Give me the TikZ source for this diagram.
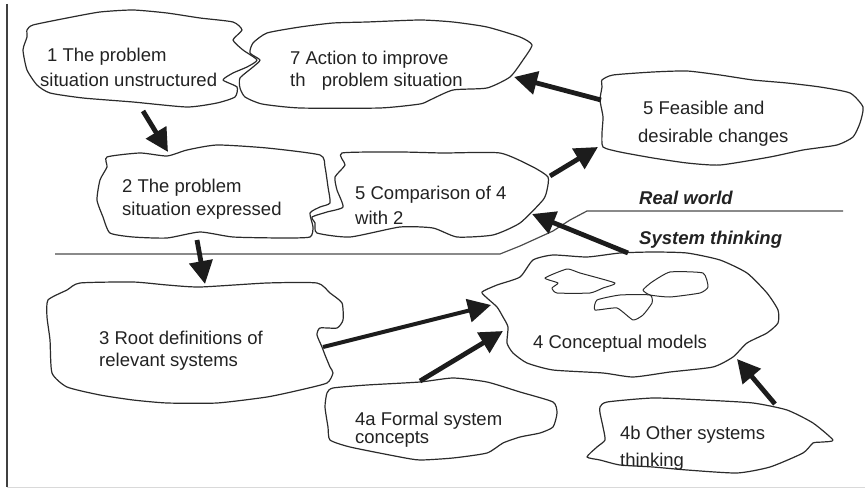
\documentclass[tikz,border=0pt]{standalone}
\usepackage{fontspec}
\setmainfont{Liberation Sans}
\usetikzlibrary{arrows.meta}
\definecolor{ink}{HTML}{2B2B2B}
\definecolor{arrowink}{HTML}{1C1C1C}
\definecolor{textink}{HTML}{222222}
\begin{document}
\begin{tikzpicture}[x=1pt,y=-1pt,
  cloud/.style={draw=ink, line width=1.2pt, line join=round},
  rule/.style={draw=ink!85, line width=1.2pt},
  txt/.style={font=\fontsize{18.5}{24}\selectfont, text=textink, align=left, anchor=west, inner sep=0pt},
  lbl/.style={font=\fontsize{18.5}{24}\selectfont\bfseries\itshape, text=textink, anchor=west, inner sep=0pt},
  arr/.style={draw=arrowink, line width=4.8pt, -{Triangle[length=23pt,width=23pt]}, shorten >=0pt}
]
\useasboundingbox (0,0) rectangle (865,489);

% page border lines
\draw[draw=black!75, line width=2.2pt] (7,4) -- (7,487);
\draw[draw=black!15, line width=0.8pt] (7,487.5) -- (865,487.5);

% ---- clouds ----
% 1 problem situation unstructured
\draw[cloud] plot[smooth cycle, tension=0.35] coordinates {
 (27,30) (33,25) (67,18) (100,12) (133,10) (167,13) (200,18) (233,22) (242,30)
 (233,40) (243,50) (257,60) (247,67) (233,73) (223,80) (237,87) (235,97)
 (217,103) (187,107) (133,102) (83,98) (50,93) (37,85) (27,70) (23,50) (27,37)};
% 7 action
\draw[cloud] plot[smooth cycle, tension=0.35] coordinates {
 (253,43) (267,33) (300,27) (333,23) (367,22) (420,20) (453,22) (487,27) (520,37)
 (532,45) (523,60) (510,77) (487,88) (453,90) (430,100) (420,104) (380,108)
 (300,108) (262,104) (245,97) (240,88) (240,78) (253,67) (260,60) (250,53)};
% 5 feasible
\draw[cloud] plot[smooth cycle, tension=0.35] coordinates {
 (602,80) (613,75) (653,72) (687,71) (720,75) (753,80) (787,83) (820,87) (850,93)
 (863,107) (860,123) (853,137) (837,145) (803,150) (770,157) (720,165) (687,163)
 (653,158) (620,152) (603,147) (602,133) (603,117) (600,100) (602,87)};
% 2 expressed
\draw[cloud] plot[smooth cycle, tension=0.35] coordinates {
 (107,157) (140,153) (167,156) (187,150) (217,145) (267,148) (320,155) (325,167)
 (328,187) (330,203) (320,207) (310,213) (313,227) (310,237) (283,238) (233,237)
 (200,232) (167,238) (133,237) (110,233) (103,217) (97,200) (100,180) (107,167)};
% 5 comparison
\draw[cloud] plot[smooth cycle, tension=0.35] coordinates {
 (342,153) (400,152) (443,153) (500,153) (533,167) (548,177) (547,190) (543,200)
 (520,223) (493,235) (457,237) (433,228) (400,227) (350,237) (317,233) (315,223)
 (312,217) (327,212) (343,207) (337,190) (335,177) (345,165)};
% 3 root definitions
\draw[cloud] plot[smooth cycle, tension=0.35] coordinates {
 (48,300) (67,290) (80,283) (133,282) (167,285) (200,287) (267,283) (317,283)
 (330,293) (342,303) (343,320) (337,328) (320,328) (317,335) (322,347) (325,355)
 (330,367) (333,373) (327,383) (300,390) (267,397) (217,403) (167,403) (133,400)
 (100,395) (67,387) (52,373) (50,340) (47,317)};
% 4a formal
\draw[cloud] plot[smooth cycle, tension=0.35] coordinates {
 (327,393) (333,388) (367,385) (420,382) (453,378) (487,382) (520,392) (553,402)
 (557,413) (553,427) (540,433) (520,437) (503,443) (487,453) (453,458) (420,460)
 (400,457) (350,447) (330,440) (328,427) (325,407)};
% 4 conceptual models
\draw[cloud] plot[smooth cycle, tension=0.35] coordinates {
 (482,292) (497,285) (520,277) (533,260) (553,255) (587,257) (620,253) (653,252)
 (687,253) (720,260) (747,273) (767,293) (778,310) (778,323) (767,333) (747,343)
 (733,357) (713,367) (670,372) (633,377) (603,373) (553,370) (527,363) (513,353)
 (507,343) (508,327) (503,317) (497,307) (487,298)};
% small clouds inside 4
\draw[cloud, line width=1pt] plot[smooth cycle, tension=0.3] coordinates {
 (545,278) (567,269) (580,273) (615,283) (603,288) (590,293) (557,293) (552,288) (558,283)};
\draw[cloud, line width=1pt] plot[smooth cycle, tension=0.3] coordinates {
 (643,290) (652,282) (670,272) (703,273) (708,287) (700,293) (670,297) (650,295)};
\draw[cloud, line width=1pt] plot[smooth cycle, tension=0.3] coordinates {
 (597,300) (620,295) (650,295) (652,303) (643,315) (633,320) (617,308) (595,310)};
% 4b other systems
\draw[cloud] plot[smooth cycle, tension=0.35] coordinates {
 (600,407) (607,402) (653,398) (703,400) (753,403) (787,410) (813,423) (833,440)
 (823,442) (813,443) (803,453) (770,467) (737,473) (687,470) (653,467) (620,465)
 (600,460) (587,457) (597,447) (605,440) (603,427) (600,413)};

% ---- real world / system thinking boundary ----
\draw[rule] (55,254) -- (500,254) -- (520,246) -- (553,231) -- (570,220) -- (587,211) -- (843,211);

% ---- texts ----
\node[txt] (t1) at (40,67.5) {\hspace*{7pt}1 The problem\\[1pt]situation unstructured};
\node[txt] (t7) at (290,71) {7 Action to improve\\[-2pt]th\hspace*{11pt} problem situation};
\node[txt] (t5f) at (638,124) {\hspace*{5pt}5 Feasible and\\[4pt]desirable changes};
\node[txt] (t2) at (122,199) {2 The problem\\[-1pt]situation expressed};
\node[txt] (t5c) at (355,205.5) {5 Comparison of 4\\[1pt]with 2};
\node[txt] (t3) at (99,351) {3 Root definitions of\\[-2pt]relevant systems};
\node[txt] (t4a) at (355,430) {4a Formal system\\[-6pt]concepts};
\node[txt] (t4) at (533,343.5) {4 Conceptual models};
\node[txt] (t4b) at (620,448) {4b Other systems\\[3pt]thinking};
\node[lbl] (rw) at (639,198) {Real world};
\node[lbl] (st) at (639,240) {System thinking};

% ---- arrow end points ----
\coordinate (a1s) at (143,111);
\coordinate (a1e) at (168,152);
\coordinate (a2s) at (197,240);
\coordinate (a2e) at (205,284);
\coordinate (a3s) at (323,347);
\coordinate (a3e) at (491,305);
\coordinate (a4s) at (420,381);
\coordinate (a4e) at (503,331);
\coordinate (a5s) at (775,404);
\coordinate (a5e) at (737,359);
\coordinate (a6s) at (628,253);
\coordinate (a6e) at (532,214);
\coordinate (a7s) at (550,176);
\coordinate (a7e) at (598,147);
\coordinate (a8s) at (601,100);
\coordinate (a8e) at (514,77);

% ---- arrows ----
\draw[arr] (a1s) -- (a1e);
\draw[arr] (a2s) -- (a2e);
\draw[arr, line width=4pt] (a3s) -- (a3e);
\draw[arr] (a4s) -- (a4e);
\draw[arr] (a5s) -- (a5e);
\draw[arr] (a6s) -- (a6e);
\draw[arr] (a7s) -- (a7e);
\draw[arr] (a8s) -- (a8e);
\end{tikzpicture}
\end{document}
